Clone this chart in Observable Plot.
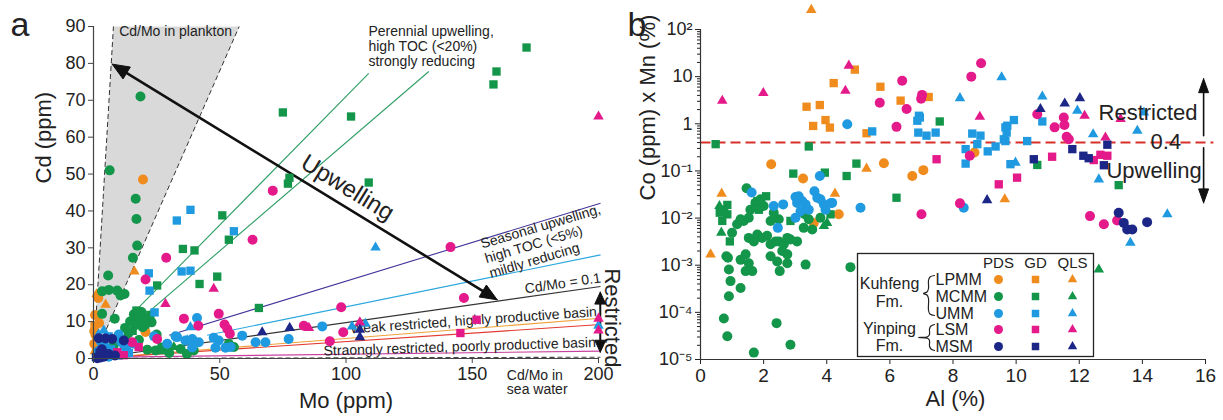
<!DOCTYPE html>
<html><head><meta charset="utf-8">
<script src="https://cdn.jsdelivr.net/npm/d3@7"></script>
<script src="https://cdn.jsdelivr.net/npm/@observablehq/plot@0.6"></script>
<style>
body{margin:0;background:#fff;font-family:"Liberation Sans",Arial,sans-serif;}
#wrap{position:relative;width:1223px;height:420px;display:flex;}
#pa,#pb{flex:none}
#legend{position:absolute;left:857px;top:253px;}
</style></head><body>
<div id="wrap"><div id="pa"></div><div id="pb"></div><div id="legend"></div></div>
<script>
// ---------- categories ----------
const groups = ["LPMM","MCMM","UMM","LSM","MSM"];
const sites = ["PDS","GD","QLS"];
const formations = ["Kuhfeng\nFm.","Yinping\nFm."];

// ---------- panel a : Mo (ppm) vs Cd (ppm) ----------
const a_LPMM_PDS = [[19.6,48.5],[1.9,16.4],[0.6,11.8],[0.3,7.4],[0.3,4.0],[1.3,2.4],[0.8,6.4],[20.6,7.2],[2.2,9.6]];
const a_LPMM_GD  = [[0.4,9.0]];
const a_LPMM_QLS = [[16.2,23.6],[4.8,14.6],[1.2,17.4],[0.5,2.0]];
const a_MCMM_PDS = [[18.6,71],[6.4,51],[16.7,43.3],[17,37.8],[17.3,30.6],[15.6,27.3],[5.8,22.5],[3.4,18.2],[6.1,18.6],[9.4,18.4],[12.3,17.5],[10.7,17.1],[3.4,12.1],[8.4,10.8],[14.5,10],[16,12],[17.5,11.5],[19,12.6],[18,10.5],[20,11],[21.5,10.3],[16.5,9],[19.5,8.5],[23,9.8],[12.5,8.3],[14,7],[25,6.5],[18,5],[21.3,2.4],[24.6,2.2],[26.9,2.6],[34.5,2.6],[39.7,2.2],[30,1.5],[37,1.2],[53.6,4],[55.6,3.1],[2,1],[4,3],[8,3.5]];
const a_MCMM_GD  = [[75,66.7],[77.6,49],[77,47.4],[51,38.8],[53.6,32.2],[35.4,29.7],[40,29.3],[42,20.2],[49,22.2],[25.2,19.8],[65.5,13.7],[171.5,84.3],[159.6,77.8],[158.4,74.3],[102,65.6],[109,47.7],[17,13],[20.5,9.2],[22.5,11.8],[15.5,7.5],[27,3.2]];
const a_MCMM_QLS = [[31.8,3.1],[27,2],[13,6]];
const a_UMM_PDS  = [[41,11],[32.5,6],[36.4,4.9],[39.1,5.3],[41.7,4.4],[39.1,3],[47.6,5.6],[49.6,4.9],[48.3,2.9],[52.3,2.9],[58.9,6.2],[64.2,4.4],[68.1,4.4],[77.3,5.3],[90.6,8.7],[29.2,4],[33.1,5.8],[54.3,3.1],[2,2],[5,3],[8,1.5],[11,4.5],[13,2.5],[6,0.5],[16,4],[24,6],[10,6.5],[3,4.5]];
const a_UMM_GD   = [[38.4,40.3],[33,37.4],[55.6,34.5],[21.9,23.1],[34.9,23.6],[38.4,23.8],[22.2,18.4],[24.2,12.5],[3,1],[7,2.5],[10,0.8],[12,3.5],[4,4],[1,0.3],[14,1.5],[6,6]];
const a_UMM_QLS  = [[111.7,30.1],[38.4,8.5],[102.4,8.7],[107.7,9.4],[200,8.9],[4.1,7.6],[37.1,4.9],[9,1],[2,6.5]];
const a_LSM_PDS  = [[71,45.5],[63,32.2],[28.8,27.3],[20.6,21.4],[35.8,10.8],[41.5,8.9],[49.6,12.1],[51.9,9.2],[53,8],[54,6.7],[25.2,5.3],[15.3,4.4],[83.3,8.9],[141.4,30.2],[146.7,16.4],[98.1,13.9],[98.9,7.1],[93.6,4.7]];
const a_LSM_GD   = [[151.7,10.5],[145.3,6.9],[9.4,1.7],[17.9,3.1],[12,0.9]];
const a_LSM_QLS  = [[200,65.6],[47.6,18.9],[28.5,14.8],[85.3,8.3],[105.5,9.8],[200,10.8],[200,7.6]];
const a_MSM_PDS  = [[2.1,5.5],[4.8,5.4],[7.4,5.3],[12,4.9],[1.5,0.1],[4.1,0.5],[2.8,0.3],[6,1.2],[3.3,2.5],[8.5,0.8]];
const a_MSM_GD   = [[1,0.4],[2.4,1.6]];
const a_MSM_QLS  = [[66.8,7.1],[77.7,8.3],[105.5,7.8],[105.5,5.8]];

// reference Cd/Mo lines [Mo1, Cd1, Mo2, Cd2]
const lineNames = ["perennialA","perennialB","seasonalA","seasonalB","ratio01","weakA","weakB","strong","seawater"];
const lineSegs  = [[16,12.5,109,77.3],[21.3,12.3,132.8,77.8],[30,6.3,200.8,42.1],[45,6.3,200.8,28.1],[10,1.0,200.8,19.5],[0,0,200.8,10.9],[0,0,200.8,9.2],[0,0.3,200.8,2.0],[0,0,200.8,0.35]];
// plankton Cd/Mo field (polygon)
const planktonMo = [0, 7.9, 57.7];
const planktonCd = [0, 90, 90];
// arrows [Mo1,Cd1,Mo2,Cd2]
const upwellingArrow = [7.4,79.8,159.9,15.9];
const restrictedArrowA = [200.7,18.0,200.7,1.7];
const xTicksA = [0,50,100,150,200];
const yTicksA = [0,10,20,30,40,50,60,70,80,90];

// ---------- panel b : Al (%) vs Co x Mn ----------
const b_LPMM_PDS = [[2.24,0.139],[3.25,0.069],[5.81,0.146],[6.71,0.078],[7.06,0.104],[4.38,0.012],[3.59,0.0079],[8.68,0.245]];
const b_LPMM_GD  = [[4.89,14.1],[4.22,7.3],[5.7,6.1],[3.36,2.3],[3.78,2.5],[6.34,3.1],[7.23,3.7],[3.57,0.9],[3.96,1.2],[4.1,0.83],[5.26,0.63]];
const b_LPMM_QLS = [[3.51,260],[5.26,0.112],[0.67,0.033],[4.26,0.033],[0.32,0.0017],[9.64,0.025]];
const b_MCMM_PDS = [[1.46,0.043],[1.74,0.021],[1.58,0.015],[1.53,0.0102],[1.0,0.0049],[1.16,0.0074],[1.27,0.0094],[1.37,0.0087],[1.53,0.0038],[1.69,0.0032],[1.8,0.0045],[1.95,0.0038],[2.11,0.0042],[2.22,0.0028],[2.38,0.0032],[2.22,0.0087],[2.48,0.0094],[2.32,0.013],[2.48,0.0032],[2.64,0.0028],[2.75,0.0038],[2.85,0.0035],[3.06,0.0032],[2.59,0.002],[2.75,0.0017],[2.22,0.00155],[2.43,0.0012],[2.75,0.0011],[3.33,0.00103],[2.51,0.00075],[4.75,0.00091],[0.82,0.00155],[0.87,0.00144],[1.27,0.0013],[1.43,0.0017],[1.53,0.0011],[1.64,0.00075],[0.9,0.00081],[0.95,0.00046],[1.43,0.00075],[1.27,0.00033],[0.9,0.00022],[0.74,0.000074],[2.41,0.000059],[0.85,0.000031],[2.85,0.0000206],[1.69,0.000014],[3.27,0.0062],[3.54,0.0057],[3.43,0.0094],[3.8,0.0102],[1.9,0.025],[2.0,0.018],[3.3,0.012]];
const b_MCMM_GD  = [[0.48,0.37],[3.43,0.33],[4.94,0.143],[2.94,0.0877],[3.94,0.092],[4.63,0.078],[6.21,0.027],[2.08,0.029],[1.8,0.023],[1.85,0.015],[0.85,0.019],[0.61,0.013],[0.85,0.012],[0.69,0.0087],[0.75,0.015],[0.93,0.0032],[2.85,0.0087],[4.12,0.012],[7.58,1.12],[10.67,0.134],[13.25,0.05]];
const b_MCMM_QLS = [[0.6,0.018],[0.66,0.0049],[4.01,0.0079],[3.91,0.0068],[12.62,0.00081]];
const b_UMM_PDS  = [[1.62,0.035],[2.32,0.018],[2.62,0.0195],[3.11,0.029],[3.22,0.023],[3.61,0.037],[3.7,0.027],[3.8,0.025],[4.14,0.021],[3.01,0.028],[3.06,0.021],[3.33,0.0195],[3.17,0.014],[3.43,0.015],[3.91,0.0195],[3.96,0.015],[4.17,0.021],[3.01,0.0102],[5.07,0.0166],[2.45,0.0062],[4.65,0.98],[3.78,0.078],[8.34,0.0166]];
const b_UMM_GD   = [[5.44,0.69],[6.87,1.16],[6.95,1.36],[6.9,0.65],[7.16,0.56],[6.92,1.48],[7.45,0.65],[8.61,0.62],[8.87,0.56],[8.77,0.37],[8.4,0.29],[8.4,0.143],[9.1,0.26],[9.35,0.33],[9.66,0.84],[9.7,0.65],[9.66,0.43],[9.93,1.2],[9.82,0.139],[9.61,0.47],[9.72,0.91],[10.35,0.43],[10.83,1.12]];
const b_UMM_QLS  = [[9.54,9.7],[8.22,3.5],[9.98,0.15],[10.83,3.8],[11.94,1.9],[12.44,0.6],[12.62,0.066],[13.84,0.71],[14.05,1.74],[14.79,0.012],[13.62,0.003]];
const b_LSM_PDS  = [[6.39,8.2],[5.68,2.8],[6.53,2.06],[7.02,4.1],[6.99,3.4],[6.21,0.86],[8.89,19.2],[8.58,10],[8.53,0.21],[8.22,0.0205],[7.0,0.012],[10.67,1.6],[11.51,1.36],[11.22,0.84],[11.53,0.94],[11.6,0.53],[11.67,0.47],[12.34,0.011],[12.78,0.0074],[13.2,0.0089]];
const b_LSM_GD   = [[7.48,0.177],[9.45,0.052],[10.03,0.072],[11.14,0.2],[12.46,0.17],[12.67,0.22],[12.89,0.21]];
const b_LSM_QLS  = [[0.69,3.08],[1.99,4.5],[4.7,17.1],[4.59,5.0],[8.85,1.41],[12.17,1.48],[12.83,0.51],[13.31,1.26]];
const b_MSM_PDS  = [[13.25,0.013],[13.41,0.0079],[13.52,0.0057],[13.68,0.0057],[14.15,0.0082]];
const b_MSM_GD   = [[10.56,0.177],[11.78,0.29],[12.13,0.21],[12.3,0.186],[12.78,0.132],[12.89,0.36]];
const b_MSM_QLS  = [[9.08,0.024],[10.77,2.05],[11.54,2.7],[12.02,3.5]];
const threshold = 0.4;
const upArrowB = [15.94,0.556,15.94,9.06];
const downArrowB = [15.94,0.31,15.94,0.021];
const xTicksB = [0,2,4,6,8,10,12,14,16];
const yTicksB = [1e-5,1e-4,1e-3,1e-2,1e-1,1,10,100];
const yTickLabelsB = ["10⁻⁵","10⁻⁴","10⁻³","10⁻²","10⁻¹","1","10","10²"];

// ---------- styles ----------
const FONT = "'Liberation Sans', Arial, Helvetica, sans-serif";
const INK = "#222";
const colorOf = {LPMM:"#f08c1e", MCMM:"#13954a", UMM:"#1f9ae0", LSM:"#e4198a", MSM:"#1c2687"};
const symbolOf = {PDS:"circle", GD:"square", QLS:"triangle"};
const rOf = {PDS:5, GD:4.7, QLS:3.9};
const lineStyle = {
  perennialA:{stroke:"#2f9e66"}, perennialB:{stroke:"#2f9e66"},
  seasonalA:{stroke:"#40359a"}, seasonalB:{stroke:"#2aa7de"},
  ratio01:{stroke:"#333"}, weakA:{stroke:"#f0a03a"}, weakB:{stroke:"#e23a30"},
  strong:{stroke:"#c8409e"}, seawater:{stroke:"#444", strokeDasharray:"5,3"}
};
const seriesA = {a_LPMM_PDS,a_LPMM_GD,a_LPMM_QLS,a_MCMM_PDS,a_MCMM_GD,a_MCMM_QLS,a_UMM_PDS,a_UMM_GD,a_UMM_QLS,a_LSM_PDS,a_LSM_GD,a_LSM_QLS,a_MSM_PDS,a_MSM_GD,a_MSM_QLS};
const seriesB = {b_LPMM_PDS,b_LPMM_GD,b_LPMM_QLS,b_MCMM_PDS,b_MCMM_GD,b_MCMM_QLS,b_UMM_PDS,b_UMM_GD,b_UMM_QLS,b_LSM_PDS,b_LSM_GD,b_LSM_QLS,b_MSM_PDS,b_MSM_GD,b_MSM_QLS};

function dotMarks(prefix, series) {
  const marks = [];
  for (const g of groups) for (const s of sites) {
    const data = series[`${prefix}_${g}_${s}`];
    marks.push(Plot.dot(data, {x: d => d[0], y: d => d[1], fill: colorOf[g], symbol: symbolOf[s], r: rOf[s]}));
  }
  return marks;
}

// arrow helper: shaft + filled heads, computed in pixel space then mapped back to data
function arrowMarks(seg, fx, fy, fxi, fyi, opt) {
  const P0 = [fx(seg[0]), fy(seg[1])], P1 = [fx(seg[2]), fy(seg[3])];
  const dx = P1[0]-P0[0], dy = P1[1]-P0[1], L = Math.hypot(dx, dy), ux = dx/L, uy = dy/L;
  const {len, half, width, both} = opt;
  const head = (tip, sx, sy, id) => {
    const bx = tip[0]-sx*len, by = tip[1]-sy*len;
    return [tip, [bx - sy*half, by + sx*half], [bx + sy*half, by - sx*half], tip].map(p => ({x: fxi(p[0]), y: fyi(p[1]), id}));
  };
  let heads = head(P1, ux, uy, 1);
  let s0 = P0;
  if (both) { heads = heads.concat(head(P0, -ux, -uy, 0)); s0 = [P0[0]+ux*len*0.7, P0[1]+uy*len*0.7]; }
  const s1 = [P1[0]-ux*len*0.7, P1[1]-uy*len*0.7];
  const shaft = [s0, s1].map(p => ({x: fxi(p[0]), y: fyi(p[1])}));
  return [
    Plot.line(shaft, {x:"x", y:"y", stroke:"#111", strokeWidth: width}),
    Plot.line(heads, {x:"x", y:"y", z:"id", fill:"#111", stroke:"#111", strokeWidth: 1})
  ];
}

// ---------- panel a ----------
const LA = {w:615, h:420, mt:26, mr:17, mb:62, ml:93, xd:[0,200], yd:[0,90]};
const iwA = LA.w-LA.ml-LA.mr, ihA = LA.h-LA.mt-LA.mb;
const fxA = v => LA.ml + (v-LA.xd[0])/(LA.xd[1]-LA.xd[0])*iwA;
const fyA = v => LA.h-LA.mb - (v-LA.yd[0])/(LA.yd[1]-LA.yd[0])*ihA;
const fxiA = p => LA.xd[0] + (p-LA.ml)/iwA*(LA.xd[1]-LA.xd[0]);
const fyiA = p => LA.yd[0] + (LA.h-LA.mb-p)/ihA*(LA.yd[1]-LA.yd[0]);

const plankton = planktonMo.map((m, i) => ({x: m, y: planktonCd[i]}));
const segs = lineNames.map((n, i) => ({name: n, x1: lineSegs[i][0], y1: lineSegs[i][1], x2: lineSegs[i][2], y2: lineSegs[i][3]}));
const txt = {fill: INK, fontFamily: FONT};

const plotA = Plot.plot({
  width: LA.w, height: LA.h, marginTop: LA.mt, marginRight: LA.mr, marginBottom: LA.mb, marginLeft: LA.ml,
  x: {domain: LA.xd}, y: {domain: LA.yd},
  style: {fontFamily: FONT, fontSize: "18px", color: INK, background: "transparent", overflow: "visible"},
  marks: [
    Plot.line(plankton, {x:"x", y:"y", fill:"#d9d9d9", stroke:"none"}),
    Plot.link([plankton[1], plankton[2]], {x1: () => plankton[0].x, y1: () => plankton[0].y, x2: "x", y2: "y", stroke:"#333", strokeWidth: 1, strokeDasharray: "5,3"}),
    ...segs.map(s => Plot.link([s], {x1:"x1", y1:"y1", x2:"x2", y2:"y2", strokeWidth: 1.1, ...lineStyle[s.name]})),
    Plot.text(["Cd/Mo in plankton"], {x: 32.5, y: 87.3, text: d => d, fontSize: 14, lineAnchor: "bottom", ...txt}),
    Plot.text(["Perennial upwelling,\nhigh TOC (<20%)\nstrongly reducing"], {x: 108.9, y: 79.2, text: d => d, fontSize: 14, textAnchor: "start", lineAnchor: "bottom", lineHeight: 1.1, ...txt}),
    Plot.text(["Seasonal upwelling,\nhigh TOC (<5%)\nmildly reducing"], {x: 157.4, y: 21.8, text: d => d, fontSize: 14, textAnchor: "start", lineAnchor: "bottom", lineHeight: 1.1, rotate: -16.5, ...txt}),
    Plot.text(["Cd/Mo = 0.1"], {x: 171.1, y: 17.6, text: d => d, fontSize: 14, textAnchor: "start", lineAnchor: "bottom", rotate: -8.5, ...txt}),
    Plot.text(["Weak restricted, highly productive basin"], {x: 101.8, y: 6.8, text: d => d, fontSize: 14, textAnchor: "start", lineAnchor: "bottom", rotate: -4, ...txt}),
    Plot.text(["Straongly restricted, poorly productive basin"], {x: 91.2, y: 0.8, text: d => d, fontSize: 14, textAnchor: "start", lineAnchor: "bottom", rotate: -1.8, ...txt}),
    Plot.text(["Cd/Mo in\nsea water"], {x: 163.7, y: -9.5, text: d => d, fontSize: 14, textAnchor: "start", lineAnchor: "bottom", lineHeight: 1.0, ...txt}),
    Plot.text(["Upwelling"], {x: 100.6, y: 46.3, text: d => d, fontSize: 24, rotate: 31.5, ...txt}),
    Plot.text(["Restricted"], {x: 202.4, y: 11.0, text: d => d, fontSize: 22, rotate: 90, lineAnchor: "bottom", ...txt}),
    ...arrowMarks(upwellingArrow, fxA, fyA, fxiA, fyiA, {len: 17, half: 7, width: 2.6, both: true}),
    ...arrowMarks(restrictedArrowA, fxA, fyA, fxiA, fyiA, {len: 12, half: 5.5, width: 2, both: true}),
    ...dotMarks("a", seriesA),
    Plot.axisY({ticks: yTicksA, tickSize: 5, tickPadding: 3, fontSize: 18, label: null, stroke: "#444"}),
    Plot.axisX({ticks: xTicksA, tickSize: 5, tickPadding: 4, fontSize: 18, label: null, stroke: "#444"}),
    Plot.ruleX([0], {stroke: "#444", strokeWidth: 1.2}),
    Plot.ruleY([0], {stroke: "#444", strokeWidth: 1.2}),
    Plot.text(["a"], {frameAnchor: "top-left", text: d => d, dx: -83, dy: 9, fontSize: 34, textAnchor: "start", lineAnchor: "bottom", ...txt}),
    Plot.text(["Cd (ppm)"], {frameAnchor: "left", text: d => d, dx: -43, dy: -9, rotate: -90, fontSize: 22, lineAnchor: "bottom", ...txt}),
    Plot.text(["Mo (ppm)"], {frameAnchor: "bottom", text: d => d, dx: 0, dy: 49, fontSize: 22, lineAnchor: "bottom", ...txt})
  ]
});
document.getElementById("pa").appendChild(plotA);

// ---------- panel b ----------
const LB = {w:608, h:420, mt:29, mr:18, mb:61, ml:85, xd:[0,16], yd:[1e-5,100]};
const iwB = LB.w-LB.ml-LB.mr, ihB = LB.h-LB.mt-LB.mb;
const ly0 = Math.log10(LB.yd[0]), ly1 = Math.log10(LB.yd[1]);
const fxB = v => LB.ml + (v-LB.xd[0])/(LB.xd[1]-LB.xd[0])*iwB;
const fyB = v => LB.h-LB.mb - (Math.log10(v)-ly0)/(ly1-ly0)*ihB;
const fxiB = p => LB.xd[0] + (p-LB.ml)/iwB*(LB.xd[1]-LB.xd[0]);
const fyiB = p => Math.pow(10, ly0 + (LB.h-LB.mb-p)/ihB*(ly1-ly0));
const minorB = [];
for (let e = -5; e < 2; e++) for (let m = 2; m <= 9; m++) minorB.push(m * Math.pow(10, e));

const plotB = Plot.plot({
  width: LB.w, height: LB.h, marginTop: LB.mt, marginRight: LB.mr, marginBottom: LB.mb, marginLeft: LB.ml,
  x: {domain: LB.xd}, y: {type: "log", domain: LB.yd},
  style: {fontFamily: FONT, fontSize: "18px", color: INK, background: "transparent", overflow: "visible"},
  marks: [
    Plot.link([threshold], {x1: 0, x2: 16.25, y1: d => d, y2: d => d, stroke: "#d7302b", strokeWidth: 2, strokeDasharray: "10,5"}),
    ...dotMarks("b", seriesB),
    ...arrowMarks(upArrowB, fxB, fyB, fxiB, fyiB, {len: 14, half: 5, width: 1.6, both: false}),
    ...arrowMarks(downArrowB, fxB, fyB, fxiB, fyiB, {len: 14, half: 5, width: 1.6, both: false}),
    Plot.text(["Restricted"], {x: 12.61, y: 1.216, text: d => d, fontSize: 22, textAnchor: "start", lineAnchor: "bottom", ...txt}),
    Plot.text(["0.4"], {x: 14.26, y: 0.294, text: d => d, fontSize: 22, textAnchor: "start", lineAnchor: "bottom", ...txt}),
    Plot.text(["Upwelling"], {x: 12.86, y: 0.071, text: d => d, fontSize: 22, textAnchor: "start", lineAnchor: "bottom", ...txt}),
    Plot.axisY({ticks: yTicksB, tickFormat: (d) => yTickLabelsB[yTicksB.indexOf(d)], tickSize: 5, tickPadding: 3, fontSize: 18, label: null}),
    Plot.axisY({ticks: minorB, tickFormat: () => "", tickSize: 3, label: null}),
    Plot.axisX({ticks: xTicksB, tickSize: 5, tickPadding: 4, fontSize: 19, label: null}),
    Plot.ruleX([0], {stroke: "#333", strokeWidth: 1.2}),
    Plot.ruleY([LB.yd[0]], {stroke: "#333", strokeWidth: 1.2}),
    Plot.text(["b"], {frameAnchor: "top-left", text: d => d, dx: -73, dy: 6, fontSize: 34, textAnchor: "start", lineAnchor: "bottom", ...txt}),
    Plot.text(["Co (ppm) x Mn (%)"], {frameAnchor: "left", text: d => d, dx: -46, dy: 6, rotate: -90, fontSize: 22, lineAnchor: "bottom", ...txt}),
    Plot.text(["Al (%)"], {frameAnchor: "bottom", text: d => d, dx: 2.5, dy: 46, fontSize: 22, lineAnchor: "bottom", ...txt})
  ]
});
document.getElementById("pb").appendChild(plotB);

// ---------- legend (inside panel b) ----------
const LG = {w:236, h:103};
const colX = [141, 178, 215];
const rowY = [26, 43, 60, 76, 93];
const braceK = [[77,22],[72.5,23.5],[71,27],[71,35],[69.5,38.5],[66,40],[69.5,41.5],[71,45],[71,57],[72.5,60.5],[77,62]];
const braceY = [[77,71],[73.5,72.5],[72,75.5],[72,81],[70,83.3],[61,84],[70,84.7],[72,87],[72,92.5],[73.5,95.5],[77,97]];
const legendMarks = [
  Plot.frame({stroke: "#222", strokeWidth: 1.3}),
  Plot.text(sites, {x: (d, i) => colX[i], y: 14, text: d => d, fontSize: 15, lineAnchor: "bottom", ...txt}),
  Plot.text(groups, {x: 78, y: (d, i) => rowY[i], text: d => d, fontSize: 16, textAnchor: "start", ...txt}),
  Plot.text([formations[0]], {x: 32, y: 53.5, text: d => d, fontSize: 16, lineAnchor: "bottom", lineHeight: 1.1, ...txt}),
  Plot.text([formations[1]], {x: 32, y: 97, text: d => d, fontSize: 16, lineAnchor: "bottom", lineHeight: 1.05, ...txt}),
  Plot.line(braceK, {x: d => d[0], y: d => d[1], curve: "catmull-rom", stroke: "#222", strokeWidth: 1.2}),
  Plot.line(braceY, {x: d => d[0], y: d => d[1], curve: "catmull-rom", stroke: "#222", strokeWidth: 1.2})
];
sites.forEach((s, j) => {
  legendMarks.push(Plot.dot(groups, {x: colX[j], y: (d, i) => rowY[i], fill: d => colorOf[d], symbol: symbolOf[s], r: rOf[s] * 0.9}));
});
const legend = Plot.plot({
  width: LG.w, height: LG.h, margin: 0,
  x: {domain: [0, LG.w], range: [0, LG.w], axis: null},
  y: {domain: [0, LG.h], range: [0, LG.h], axis: null},
  color: {type: "identity"},
  style: {fontFamily: FONT, background: "white", color: INK, overflow: "visible"},
  marks: legendMarks
});
document.getElementById("legend").appendChild(legend);
</script>
</body></html>
